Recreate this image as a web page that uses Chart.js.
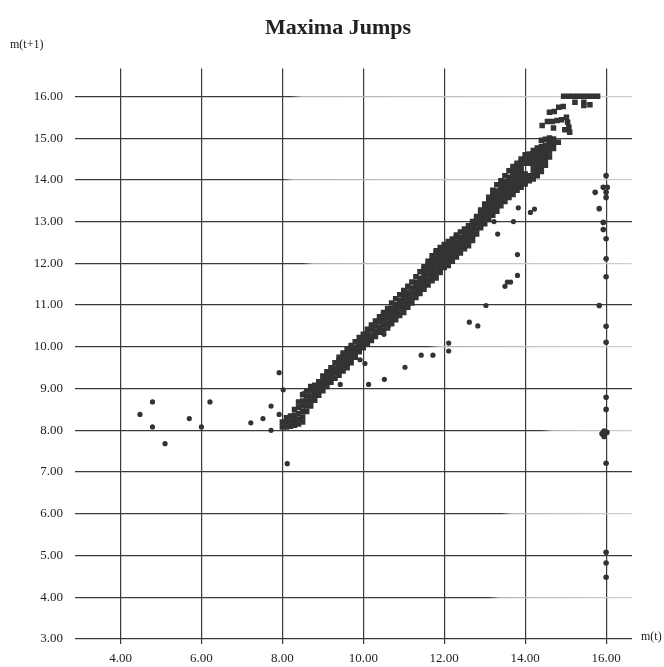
<!DOCTYPE html>
<html>
<head>
<meta charset="utf-8">
<script src="https://cdn.jsdelivr.net/npm/chart.js@4/dist/chart.umd.min.js"></script>
<style>
  html, body { margin: 0; padding: 0; background: #fff; }
  canvas { display: block; }
</style>
</head>
<body>
<canvas id="chart" width="664" height="667"></canvas>
<script>
// Axis ticks
const xTicks = [4, 6, 8, 10, 12, 14, 16];
const yTicks = [3, 4, 5, 6, 7, 8, 9, 10, 11, 12, 13, 14, 15, 16];

// Dense band of successive maxima lying close to m(t+1) = m(t): [m(t), m(t+1)]
const diagonalBand = [
  [8.0, 8.08], [8.0, 8.2],
  [8.1, 8.08], [8.1, 8.2], [8.1, 8.3],
  [8.2, 8.1], [8.2, 8.22], [8.2, 8.34],
  [8.3, 8.12], [8.3, 8.24], [8.3, 8.36], [8.3, 8.5],
  [8.4, 8.15], [8.4, 8.27], [8.4, 8.4], [8.4, 8.55], [8.4, 8.68],
  [8.5, 8.2], [8.5, 8.32], [8.5, 8.45], [8.5, 8.58], [8.5, 8.7], [8.5, 8.85],
  [8.6, 8.45], [8.6, 8.58], [8.6, 8.7], [8.6, 8.82], [8.6, 8.95],
  [8.7, 8.58], [8.7, 8.7], [8.7, 8.82], [8.7, 8.95], [8.7, 9.05],
  [8.8, 8.72], [8.8, 8.84], [8.8, 8.96], [8.8, 9.08],
  [8.9, 8.84], [8.9, 8.96], [8.9, 9.08], [8.9, 9.16],
  [9.0, 8.95], [9.0, 9.07], [9.0, 9.19], [9.0, 9.3],
  [9.1, 9.05], [9.1, 9.17], [9.1, 9.29], [9.1, 9.4],
  [9.2, 9.15], [9.2, 9.27], [9.2, 9.39], [9.2, 9.5],
  [9.3, 9.25], [9.3, 9.37], [9.3, 9.49], [9.3, 9.62],
  [9.4, 9.32], [9.4, 9.44], [9.4, 9.56], [9.4, 9.68], [9.4, 9.75],
  [9.5, 9.42], [9.5, 9.54], [9.5, 9.66], [9.5, 9.78], [9.5, 9.85],
  [9.6, 9.5], [9.6, 9.62], [9.6, 9.74], [9.6, 9.86], [9.6, 9.95],
  [9.7, 9.62], [9.7, 9.74], [9.7, 9.86], [9.7, 9.98], [9.7, 10.03],
  [9.8, 9.75], [9.8, 9.87], [9.8, 9.99], [9.8, 10.12],
  [9.9, 9.88], [9.9, 10.0], [9.9, 10.12], [9.9, 10.22],
  [10.0, 9.98], [10.0, 10.1], [10.0, 10.2], [10.0, 10.3],
  [10.1, 10.08], [10.1, 10.2], [10.1, 10.32], [10.1, 10.42],
  [10.2, 10.15], [10.2, 10.27], [10.2, 10.4], [10.2, 10.52],
  [10.3, 10.25], [10.3, 10.37], [10.3, 10.5], [10.3, 10.62],
  [10.4, 10.35], [10.4, 10.47], [10.4, 10.6], [10.4, 10.72],
  [10.5, 10.4], [10.5, 10.52], [10.5, 10.64], [10.5, 10.76], [10.5, 10.82],
  [10.6, 10.45], [10.6, 10.57], [10.6, 10.69], [10.6, 10.81], [10.6, 10.92],
  [10.7, 10.55], [10.7, 10.67], [10.7, 10.79], [10.7, 10.91], [10.7, 11.05],
  [10.8, 10.65], [10.8, 10.77], [10.8, 10.89], [10.8, 11.01], [10.8, 11.15],
  [10.9, 10.75], [10.9, 10.87], [10.9, 10.99], [10.9, 11.11], [10.9, 11.25],
  [11.0, 10.82], [11.0, 10.94], [11.0, 11.06], [11.0, 11.18], [11.0, 11.3], [11.0, 11.35],
  [11.1, 10.95], [11.1, 11.07], [11.1, 11.19], [11.1, 11.31], [11.1, 11.45],
  [11.2, 11.05], [11.2, 11.17], [11.2, 11.29], [11.2, 11.41], [11.2, 11.55],
  [11.3, 11.18], [11.3, 11.3], [11.3, 11.42], [11.3, 11.54], [11.3, 11.68],
  [11.4, 11.28], [11.4, 11.4], [11.4, 11.52], [11.4, 11.64], [11.4, 11.8],
  [11.5, 11.38], [11.5, 11.5], [11.5, 11.62], [11.5, 11.74], [11.5, 11.86], [11.5, 11.92],
  [11.6, 11.48], [11.6, 11.6], [11.6, 11.72], [11.6, 11.84], [11.6, 11.96], [11.6, 12.05],
  [11.7, 11.58], [11.7, 11.7], [11.7, 11.82], [11.7, 11.94], [11.7, 12.06], [11.7, 12.18],
  [11.8, 11.65], [11.8, 11.77], [11.8, 11.89], [11.8, 12.01], [11.8, 12.13], [11.8, 12.25], [11.8, 12.3],
  [11.9, 11.78], [11.9, 11.9], [11.9, 12.02], [11.9, 12.14], [11.9, 12.26], [11.9, 12.38],
  [12.0, 11.9], [12.0, 12.02], [12.0, 12.14], [12.0, 12.26], [12.0, 12.38], [12.0, 12.45],
  [12.1, 11.95], [12.1, 12.07], [12.1, 12.19], [12.1, 12.31], [12.1, 12.43], [12.1, 12.52],
  [12.2, 12.05], [12.2, 12.17], [12.2, 12.29], [12.2, 12.41], [12.2, 12.53], [12.2, 12.58],
  [12.3, 12.15], [12.3, 12.27], [12.3, 12.39], [12.3, 12.51], [12.3, 12.63], [12.3, 12.68],
  [12.4, 12.25], [12.4, 12.37], [12.4, 12.49], [12.4, 12.61], [12.4, 12.75],
  [12.5, 12.35], [12.5, 12.47], [12.5, 12.59], [12.5, 12.71], [12.5, 12.82],
  [12.6, 12.42], [12.6, 12.54], [12.6, 12.66], [12.6, 12.78], [12.6, 12.9],
  [12.7, 12.55], [12.7, 12.67], [12.7, 12.79], [12.7, 12.91], [12.7, 13.0],
  [12.8, 12.7], [12.8, 12.82], [12.8, 12.94], [12.8, 13.06], [12.8, 13.12],
  [12.9, 12.85], [12.9, 12.97], [12.9, 13.09], [12.9, 13.21], [12.9, 13.28],
  [13.0, 12.95], [13.0, 13.07], [13.0, 13.19], [13.0, 13.31], [13.0, 13.42],
  [13.1, 13.05], [13.1, 13.17], [13.1, 13.29], [13.1, 13.41], [13.1, 13.53], [13.1, 13.58],
  [13.2, 13.15], [13.2, 13.27], [13.2, 13.39], [13.2, 13.51], [13.2, 13.63], [13.2, 13.75],
  [13.3, 13.25], [13.3, 13.37], [13.3, 13.49], [13.3, 13.61], [13.3, 13.73], [13.3, 13.88],
  [13.4, 13.38], [13.4, 13.5], [13.4, 13.62], [13.4, 13.74], [13.4, 13.86], [13.4, 13.98],
  [13.5, 13.48], [13.5, 13.6], [13.5, 13.72], [13.5, 13.84], [13.5, 13.96], [13.5, 14.1],
  [13.6, 13.58], [13.6, 13.7], [13.6, 13.82], [13.6, 13.94], [13.6, 14.06], [13.6, 14.22],
  [13.7, 13.65], [13.7, 13.77], [13.7, 13.89], [13.7, 14.01], [13.7, 14.13], [13.7, 14.25], [13.7, 14.32],
  [13.8, 13.75], [13.8, 13.87], [13.8, 13.99], [13.8, 14.11], [13.8, 14.23], [13.8, 14.35], [13.8, 14.4],
  [13.9, 13.82], [13.9, 13.94], [13.9, 14.06], [13.9, 14.18], [13.9, 14.3], [13.9, 14.42], [13.9, 14.5],
  [14.0, 13.9], [14.0, 14.02], [14.0, 14.14], [14.0, 14.4], [14.0, 14.52], [14.0, 14.6],
  [14.1, 13.98], [14.1, 14.1], [14.1, 14.4], [14.1, 14.52], [14.1, 14.62],
  [14.2, 14.02], [14.2, 14.14], [14.2, 14.26], [14.2, 14.38], [14.2, 14.5], [14.2, 14.62], [14.2, 14.7],
  [14.3, 14.1], [14.3, 14.22], [14.3, 14.34], [14.3, 14.46], [14.3, 14.58], [14.3, 14.7], [14.3, 14.76],
  [14.4, 14.2], [14.4, 14.32], [14.4, 14.44], [14.4, 14.56], [14.4, 14.68], [14.4, 14.8], [14.4, 14.95],
  [14.5, 14.35], [14.5, 14.47], [14.5, 14.59], [14.5, 14.71], [14.5, 14.83], [14.5, 14.97],
  [14.6, 14.55], [14.6, 14.67], [14.6, 14.79], [14.6, 14.91], [14.6, 15.0],
  [14.7, 14.75], [14.7, 14.87], [14.7, 14.98]
];

// Highest maxima, above 15
const topCluster = [
  [14.42, 15.3], [14.55, 15.4], [14.67, 15.4], [14.79, 15.42], [14.9, 15.44],
  [15.02, 15.5], [15.05, 15.38], [15.08, 15.26], [15.1, 15.14], [14.7, 15.24],
  [14.98, 15.2], [14.82, 14.9],
  [14.6, 15.62], [14.72, 15.64], [14.83, 15.74], [14.94, 15.76],
  [14.95, 16.0], [15.07, 16.0], [15.19, 16.0], [15.31, 16.0], [15.43, 16.0],
  [15.55, 16.0], [15.67, 16.0], [15.79, 16.0],
  [15.23, 15.86], [15.45, 15.86], [15.45, 15.78], [15.6, 15.8]
];

// Isolated jumps away from the band
const scatteredJumps = [
  [4.48, 8.38], [4.79, 8.68], [4.79, 8.08], [5.1, 7.68], [5.7, 8.28], [6.0, 8.08],
  [6.21, 8.68], [7.22, 8.18], [7.52, 8.28], [7.72, 8.58], [7.72, 8.0], [7.92, 8.38],
  [7.92, 9.38], [8.02, 8.97], [8.12, 7.2], [8.52, 8.88],
  [9.43, 9.1], [9.92, 9.69], [10.04, 9.6], [10.13, 9.1], [10.52, 9.22], [10.51, 10.3],
  [10.62, 10.5], [11.03, 9.51], [11.43, 9.8], [11.72, 9.8], [12.11, 10.09], [12.11, 9.9],
  [12.62, 10.59], [12.83, 10.5], [13.03, 10.99], [13.5, 11.45], [13.56, 11.55],
  [13.64, 11.55], [13.81, 11.71], [13.81, 12.21], [13.32, 12.7], [13.23, 13.0],
  [13.71, 13.0], [13.83, 13.33], [14.13, 13.22], [14.23, 13.3]
];

// Maxima starting near 16
const edgeColumn = [
  [16.0, 14.1], [15.93, 13.82], [16.03, 13.82], [16.0, 13.7], [16.0, 13.58], [15.73, 13.7],
  [15.83, 13.31], [15.93, 12.98], [15.93, 12.81], [16.0, 12.59], [16.0, 12.11],
  [16.0, 11.68], [15.83, 10.99], [16.0, 10.49], [16.0, 10.11], [16.0, 8.79], [16.0, 8.5],
  [15.9, 7.92], [15.95, 7.98], [16.02, 7.95], [15.95, 7.85], [16.0, 7.21],
  [16.0, 5.08], [16.0, 4.82], [16.0, 4.48]
];

// Single point beyond the plotted range
const strayPoint = [[16.85, 16.68]];

const toXY = pts => pts.map(([x, y]) => ({ x, y }));
const INK = '#333333';
const GRID = '#3a3a3a';
const FADED = '#b4b4b4';
const SERIF = "'Liberation Serif', 'Times New Roman', serif";

// Even horizontal rules print solid on the left and fade to a faint dotted trace
// past these m(t) values.
const fadeStart = { 16: 8.2, 14: 8.0, 12: 8.5, 10: 11.6, 8: 14.4, 6: 13.4, 4: 13.1 };

function horizontalRuleColor(ctx) {
  const v = ctx.tick && ctx.tick.value;
  const chart = ctx.chart;
  const area = chart.chartArea;
  if (!(v in fadeStart) || !area) return GRID;
  const xs = chart.scales.x;
  const f = Math.min(1, Math.max(0, (xs.getPixelForValue(fadeStart[v]) - area.left) / (area.right - area.left)));
  const g = chart.ctx.createLinearGradient(area.left, 0, area.right, 0);
  g.addColorStop(0, GRID);
  g.addColorStop(f, GRID);
  g.addColorStop(Math.min(1, f + 0.02), FADED);
  g.addColorStop(1, '#d0d0d0');
  return g;
}

// Axis names written horizontally beside the axes
const axisNames = {
  id: 'axisNames',
  afterDraw(chart) {
    const { ctx, chartArea } = chart;
    ctx.save();
    ctx.fillStyle = '#222';
    ctx.font = `12px ${SERIF}`;
    ctx.textBaseline = 'middle';
    ctx.textAlign = 'left';
    ctx.fillText('m(t+1)', 10, 45);
    ctx.fillText('m(t)', chartArea.right + 9, chartArea.bottom - 2);
    ctx.restore();
  }
};

new Chart(document.getElementById('chart'), {
  type: 'scatter',
  data: {
    datasets: [
      { label: 'band', data: toXY(diagonalBand), pointStyle: 'rect', pointRadius: 3.9,
        backgroundColor: INK, borderWidth: 0 },
      { label: 'top', data: toXY(topCluster), pointStyle: 'rect', pointRadius: 3.9,
        backgroundColor: INK, borderWidth: 0 },
      { label: 'jumps', data: toXY(scatteredJumps), pointStyle: 'circle', pointRadius: 2.6,
        backgroundColor: INK, borderWidth: 0 },
      { label: 'edge', data: toXY(edgeColumn), pointStyle: 'circle', pointRadius: 2.8,
        backgroundColor: INK, borderWidth: 0 },
      { label: 'stray', data: toXY(strayPoint), pointStyle: 'circle', pointRadius: 2.2,
        backgroundColor: INK, borderWidth: 0, clip: false }
    ]
  },
  options: {
    responsive: false,
    animation: false,
    devicePixelRatio: 1,
    layout: { padding: { left: 12, right: 0, top: 0, bottom: 0 } },
    plugins: {
      legend: { display: false },
      tooltip: { enabled: false },
      title: {
        display: true,
        text: 'Maxima Jumps',
        color: '#222',
        font: { family: SERIF, size: 22, weight: 'bold', lineHeight: 1.2 },
        padding: { top: 15, bottom: 27 }
      }
    },
    scales: {
      x: {
        type: 'linear',
        min: 2.875,
        max: 16.64,
        afterBuildTicks: s => { s.ticks = xTicks.map(v => ({ value: v })); },
        afterFit: s => { s.height = 28; },
        border: { display: false },
        grid: { color: GRID, lineWidth: 1.2, drawTicks: true, tickLength: 5, tickColor: GRID },
        ticks: {
          autoSkip: false, maxRotation: 0, padding: 7, color: '#222',
          font: { family: SERIF, size: 13 },
          callback: v => Number(v).toFixed(2)
        }
      },
      y: {
        type: 'linear',
        min: 3,
        max: 16.67,
        afterBuildTicks: s => { s.ticks = yTicks.map(v => ({ value: v })); },
        afterFit: s => { s.width = 63; },
        border: { display: false },
        grid: { color: horizontalRuleColor, lineWidth: 1.2, drawTicks: false },
        ticks: {
          autoSkip: false, padding: 12, color: '#222',
          font: { family: SERIF, size: 13 },
          callback: v => Number(v).toFixed(2)
        }
      },
      // empty strip on the right that leaves room for the m(t) name
      gutter: {
        type: 'linear',
        position: 'right',
        display: true,
        afterFit: s => { s.width = 32; },
        border: { display: false },
        grid: { display: false, drawTicks: false },
        ticks: { display: false }
      }
    }
  },
  plugins: [axisNames]
});
</script>
</body>
</html>
